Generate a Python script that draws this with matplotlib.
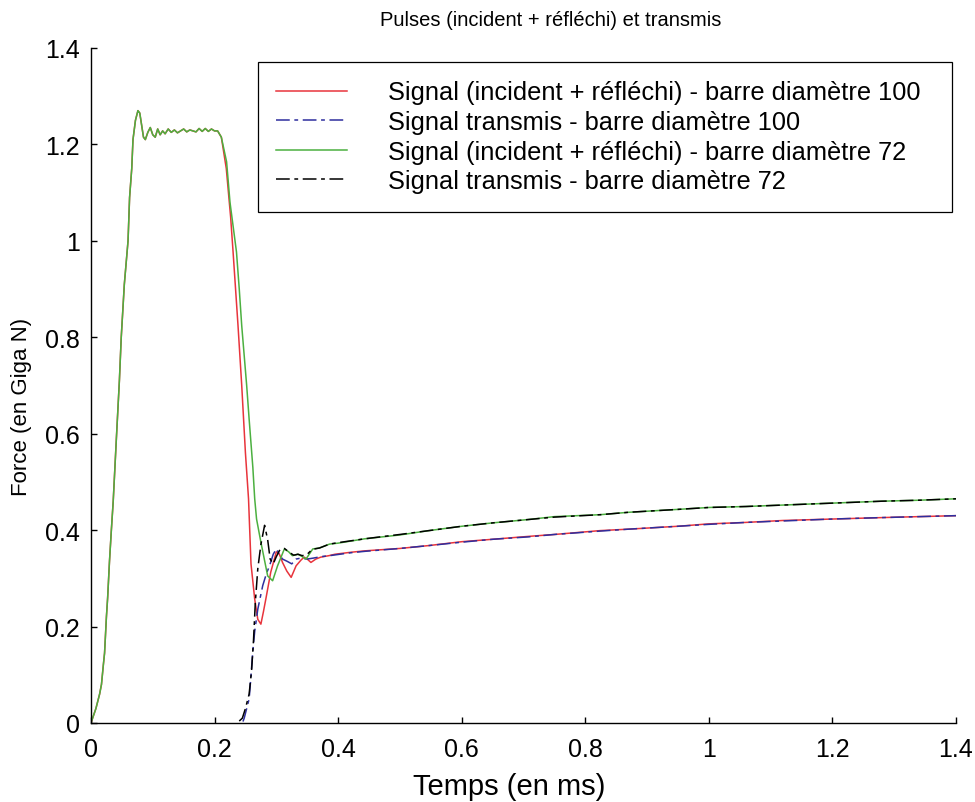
import matplotlib
matplotlib.use("Agg")
import matplotlib.pyplot as plt
import numpy as np

plt.rcParams['font.family'] = ['Liberation Sans', 'DejaVu Sans']

# ---- data ----
# common rising part of the two incident pulses (ms, GN)
rise_t = [0.000, 0.008, 0.014, 0.017, 0.020, 0.022, 0.025, 0.027, 0.030, 0.033,
          0.036, 0.041, 0.046, 0.049, 0.054, 0.060, 0.0625, 0.066, 0.068, 0.072,
          0.076, 0.079, 0.082, 0.085, 0.088, 0.092, 0.096, 0.100, 0.104, 0.108,
          0.112, 0.116, 0.120, 0.125, 0.130, 0.135, 0.140, 0.150, 0.155, 0.160,
          0.170, 0.175, 0.180, 0.185, 0.190, 0.195, 0.200, 0.205]
rise_f = [0.00, 0.03, 0.06, 0.08, 0.12, 0.145, 0.22, 0.26, 0.336, 0.40,
          0.46, 0.587, 0.71, 0.80, 0.91, 1.00, 1.09, 1.15, 1.21, 1.25,
          1.27, 1.265, 1.24, 1.215, 1.21, 1.225, 1.235, 1.22, 1.215, 1.232,
          1.22, 1.228, 1.222, 1.232, 1.225, 1.23, 1.224, 1.232, 1.226, 1.23,
          1.226, 1.233, 1.227, 1.233, 1.227, 1.232, 1.228, 1.228]

# incident + reflected, bar diameter 100 (after the plateau)
inc100_t = [0.211, 0.219, 0.226, 0.230, 0.238, 0.244, 0.250, 0.255, 0.259, 0.265,
            0.270, 0.275, 0.279, 0.283, 0.291, 0.300, 0.305, 0.310, 0.317, 0.324,
            0.332, 0.340, 0.345, 0.350, 0.356, 0.364, 0.372, 0.385, 0.395, 0.420,
            0.443, 0.500, 0.547, 0.600, 0.650, 0.708, 0.750, 0.824, 0.870, 0.950,
            1.000, 1.060, 1.120, 1.200, 1.280, 1.340, 1.400]
inc100_f = [1.215, 1.15, 1.05, 0.977, 0.824, 0.70, 0.56, 0.465, 0.33, 0.257,
            0.215, 0.205, 0.23, 0.257, 0.313, 0.355, 0.35, 0.333, 0.315, 0.302,
            0.326, 0.338, 0.344, 0.34, 0.333, 0.34, 0.344, 0.347, 0.35, 0.354,
            0.357, 0.362, 0.368, 0.376, 0.381, 0.387, 0.391, 0.399, 0.402, 0.408,
            0.413, 0.416, 0.42, 0.423, 0.426, 0.428, 0.43]

# incident + reflected, bar diameter 72 (after the plateau)
inc72_t = [0.211, 0.2195, 0.225, 0.2355, 0.240, 0.244, 0.252, 0.256, 0.262, 0.265,
           0.268, 0.275, 0.286, 0.294, 0.302, 0.313, 0.320, 0.326, 0.335, 0.342,
           0.348, 0.359, 0.370, 0.386, 0.400, 0.443, 0.500, 0.547, 0.600, 0.650,
           0.708, 0.750, 0.824, 0.870, 0.950, 1.000, 1.060, 1.120, 1.200, 1.280,
           1.340, 1.400]
inc72_f = [1.215, 1.164, 1.08, 0.977, 0.90, 0.824, 0.70, 0.63, 0.53, 0.465,
           0.423, 0.375, 0.305, 0.295, 0.326, 0.361, 0.355, 0.347, 0.35, 0.345,
           0.34, 0.361, 0.363, 0.371, 0.373, 0.382, 0.390, 0.399, 0.408, 0.415,
           0.422, 0.428, 0.432, 0.437, 0.443, 0.447, 0.449, 0.452, 0.456, 0.460,
           0.462, 0.465]

# transmitted, bar diameter 100
tr100_t = [0.246, 0.248, 0.252, 0.256, 0.259, 0.262, 0.265, 0.270, 0.278,
           0.284, 0.289, 0.295, 0.300, 0.305, 0.310, 0.318, 0.325, 0.332, 0.340,
           0.350, 0.360, 0.372, 0.386, 0.420, 0.443, 0.500, 0.547, 0.600, 0.650,
           0.708, 0.750, 0.824, 0.870, 0.950, 1.000, 1.060, 1.120, 1.200, 1.280,
           1.340, 1.400]
tr100_f = [0.003, 0.01, 0.03, 0.05, 0.098, 0.15, 0.19, 0.236, 0.285,
           0.31, 0.326, 0.35, 0.361, 0.35, 0.34, 0.335, 0.33, 0.34, 0.342,
           0.34, 0.342, 0.345, 0.347, 0.353, 0.356, 0.362, 0.368, 0.375, 0.381,
           0.386, 0.391, 0.398, 0.402, 0.408, 0.412, 0.416, 0.419, 0.423, 0.426,
           0.428, 0.43]

# transmitted, bar diameter 72
tr72_t = [0.240, 0.245, 0.250, 0.256, 0.260, 0.263, 0.266, 0.270, 0.275,
          0.281, 0.286, 0.290, 0.295, 0.300, 0.306, 0.313, 0.320, 0.328, 0.335,
          0.342, 0.350, 0.358, 0.370, 0.386, 0.400, 0.443, 0.500, 0.547, 0.600,
          0.650, 0.708, 0.750, 0.824, 0.870, 0.950, 1.000, 1.060, 1.120, 1.200,
          1.280, 1.340, 1.400]
tr72_f = [0.004, 0.01, 0.03, 0.06, 0.11, 0.17, 0.25, 0.32, 0.37,
          0.41, 0.38, 0.34, 0.33, 0.345, 0.36, 0.362, 0.355, 0.348, 0.35,
          0.347, 0.35, 0.36, 0.363, 0.371, 0.374, 0.382, 0.391, 0.399, 0.408,
          0.415, 0.422, 0.427, 0.432, 0.437, 0.443, 0.447, 0.449, 0.452, 0.456,
          0.460, 0.462, 0.465]

labels = ["Signal (incident + réfléchi) - barre diamètre 100",
          "Signal transmis - barre diamètre 100",
          "Signal (incident + réfléchi) - barre diamètre 72",
          "Signal transmis - barre diamètre 72"]

xticks = [0, 0.2, 0.4, 0.6, 0.8, 1, 1.2, 1.4]
xticklabels = ["0", "0.2", "0.4", "0.6", "0.8", "1", "1.2", "1.4"]
yticks = [0, 0.2, 0.4, 0.6, 0.8, 1, 1.2, 1.4]
yticklabels = ["0", "0.2", "0.4", "0.6", "0.8", "1", "1.2", "1.4"]

# ---- plot ----
fig = plt.figure(figsize=(9.75, 8.03), dpi=100)
ax = fig.add_axes([0.0933, 0.0984, 0.8872, 0.8406])

t100 = np.concatenate([rise_t, inc100_t])
f100 = np.concatenate([rise_f, inc100_f])
t72 = np.concatenate([rise_t, inc72_t])
f72 = np.concatenate([rise_f, inc72_f])

lw = 1.1
ax.plot(t100, f100, color='#e8343c', lw=lw, label=labels[0])
ax.plot(tr100_t, tr100_f, color='#2e2e9e', lw=lw, dashes=(9, 3, 2.5, 3), label=labels[1])
ax.plot(t72, f72, color='#4cb040', lw=lw, label=labels[2])
ax.plot(tr72_t, tr72_f, color='black', lw=lw, dashes=(9, 3, 2.5, 3), label=labels[3])

ax.set_xlim(0, 1.4)
ax.set_ylim(0, 1.4)
ax.set_xticks(xticks)
ax.set_xticklabels(xticklabels)
ax.set_yticks(yticks)
ax.set_yticklabels(yticklabels)
ax.tick_params(direction='in', length=4.5, width=1, labelsize=18, pad=8)
ax.tick_params(axis='x', pad=10)
for s in ['top', 'right']:
    ax.spines[s].set_visible(False)
for s in ['left', 'bottom']:
    ax.spines[s].set_linewidth(1.0)

ax.set_xlabel("Temps (en ms)", fontsize=21)
ax.xaxis.set_label_coords(0.483, -0.072)
ax.set_ylabel("Force (en Giga N)", fontsize=16)
ax.yaxis.set_label_coords(-0.068, 0.47)
fig.text(0.565, 0.975, "Pulses (incident + réfléchi) et transmis",
         fontsize=14.5, ha='center', va='center')

leg = ax.legend(loc='upper left', bbox_to_anchor=(0.193, 0.757, 0.802, 0.222),
                mode='expand', fontsize=18.3, fancybox=False, framealpha=1,
                edgecolor='black', borderpad=0.72, labelspacing=0.22,
                handlelength=2.8, handletextpad=1.6, borderaxespad=0)
leg.get_frame().set_linewidth(0.9)

plt.savefig("out.png", dpi=100)
